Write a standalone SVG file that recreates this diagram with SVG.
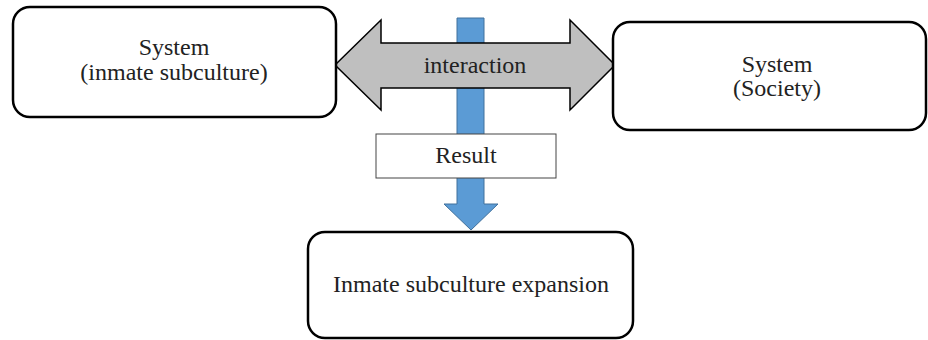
<svg xmlns="http://www.w3.org/2000/svg" width="928" height="340" viewBox="0 0 928 340">
<style>
.box{fill:#fff;stroke:#000;stroke-width:2.5}
.t{font-size:24px;fill:#222;text-anchor:middle}
</style>
<rect x="0" y="0" width="928" height="340" fill="#fff"/>
<g id="connectors">
<path id="result-arrow" d="M457,18 H484 V204 H498 L471,230 L444,204 H457 Z" fill="#5b9bd5" stroke="#41719c" stroke-width="1"/>
<path id="interaction-arrow" d="M335,65 L381,20 V43 H570 V20 L615,65 L570,110 V88 H381 V110 Z" fill="#bfbfbf" stroke="#000" stroke-width="1.5"/>
<text class="t" font-family="Liberation Serif, DejaVu Serif, serif" x="475" y="73">interaction</text>
</g>
<g id="result">
<rect x="376" y="134" width="180" height="44" fill="#fff" stroke="#444" stroke-width="1"/>
<text class="t" font-family="Liberation Serif, DejaVu Serif, serif" x="466" y="163">Result</text>
</g>
<g id="inmate-system">
<rect class="box" x="13" y="7" width="323" height="110" rx="17"/>
<text class="t" font-family="Liberation Serif, DejaVu Serif, serif" x="174" y="55">System</text>
<text class="t" font-family="Liberation Serif, DejaVu Serif, serif" x="174" y="80">(inmate subculture)</text>
</g>
<g id="society-system">
<rect class="box" x="613" y="22" width="313" height="108" rx="17"/>
<text class="t" font-family="Liberation Serif, DejaVu Serif, serif" x="777" y="72">System</text>
<text class="t" font-family="Liberation Serif, DejaVu Serif, serif" x="777" y="96">(Society)</text>
</g>
<g id="expansion">
<rect class="box" x="308" y="232" width="325" height="106" rx="17"/>
<text class="t" font-family="Liberation Serif, DejaVu Serif, serif" x="471" y="292">Inmate subculture expansion</text>
</g>
</svg>
